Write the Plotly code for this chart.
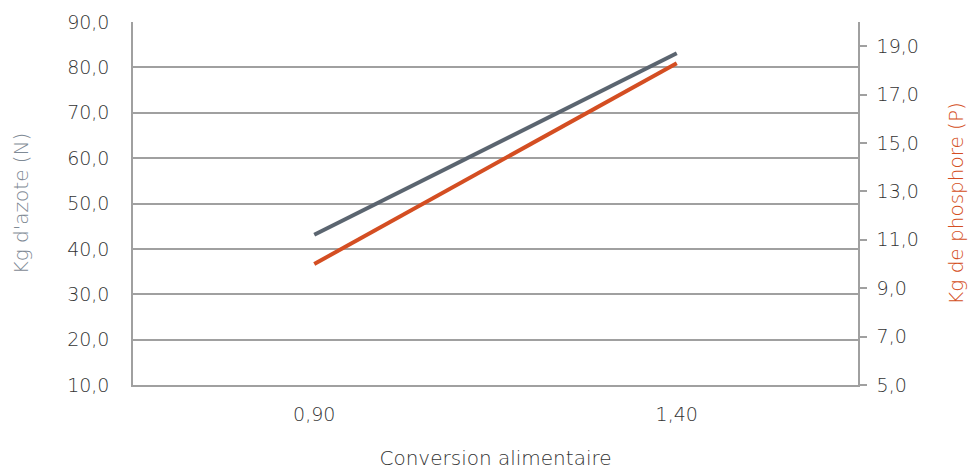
import plotly.graph_objects as go

categories = ["0,90", "1,40"]
azote = [43.1, 83.1]
phosphore = [10.0, 18.3]
left_ticks = [10, 20, 30, 40, 50, 60, 70, 80, 90]
right_ticks = [5, 7, 9, 11, 13, 15, 17, 19]

FONT = "DejaVu Sans"
W = 200
fig = go.Figure()
fig.add_trace(go.Scatter(x=categories, y=azote, mode="lines",
                         line=dict(color="#5b6570", width=4), yaxis="y", name="N"))
fig.add_trace(go.Scatter(x=categories, y=phosphore, mode="lines",
                         line=dict(color="#d44e22", width=4), yaxis="y2", name="P"))

fig.update_layout(
    width=968, height=470,
    margin=dict(l=133, r=110, t=22, b=85),
    plot_bgcolor="white", paper_bgcolor="white",
    showlegend=False,
    font=dict(family=FONT, size=19, color="#333333", weight=W),
    xaxis=dict(type="category", range=[-0.5, 1.5], showgrid=False, showline=True,
               linecolor="#a0a0a0", automargin=False,
               linewidth=2, ticks="", ticklabelstandoff=11,
               title=dict(text="Conversion alimentaire", standoff=28,
                          font=dict(size=20, color="#333333", family=FONT, weight=W))),
    yaxis=dict(range=[10, 90], tickvals=left_ticks, automargin=False,
               ticktext=[f"{v:.1f}".replace(".", ",") for v in left_ticks],
               showgrid=True, gridcolor="#a0a0a0", gridwidth=1.5,
               showline=True, linecolor="#a0a0a0", linewidth=1.5,
               zeroline=False, ticks="", ticklabelstandoff=18,
               title=dict(text="Kg d'azote (N)", standoff=33,
                          font=dict(size=20, color="#7f8a95", family=FONT, weight=W))),
    yaxis2=dict(range=[5, 20], tickvals=right_ticks, automargin=False,
                ticktext=[f"{v:.1f}".replace(".", ",") for v in right_ticks],
                overlaying="y", side="right", showgrid=False,
                showline=True, linecolor="#a0a0a0", linewidth=1.5,
                zeroline=False, ticks="outside", ticklen=7, tickcolor="#a0a0a0",
                tickwidth=1.5, ticklabelstandoff=6,
                title=dict(text="Kg de phosphore (P)", standoff=31,
                           font=dict(size=20, color="#d44e22", family=FONT, weight=W))),
)

fig.write_html("out.html")
